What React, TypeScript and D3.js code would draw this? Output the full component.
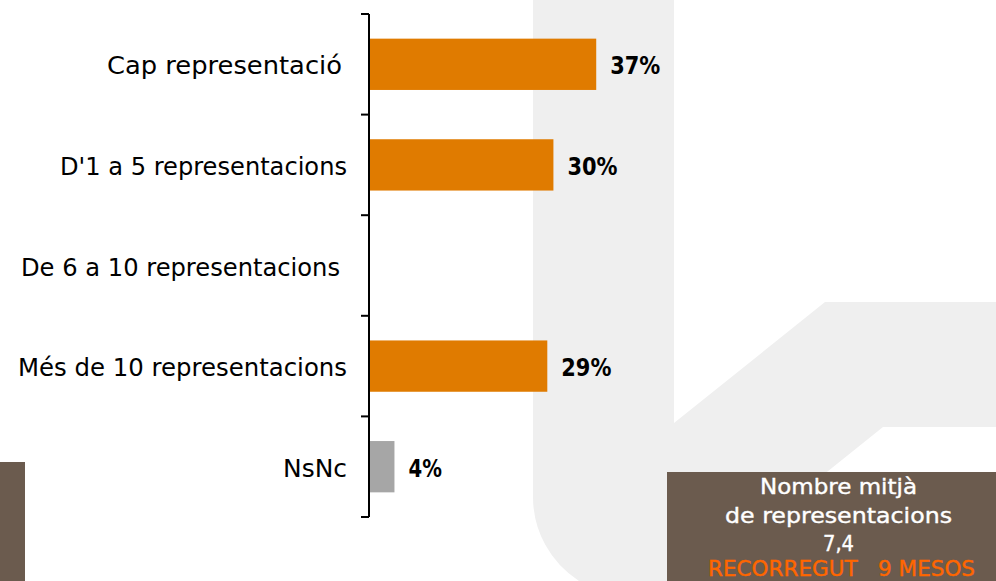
import React from "react";
import * as d3 from "d3";

const categories = [
  "Cap representació",
  "D'1 a 5 representacions",
  "De 6 a 10 representacions",
  "Més de 10 representacions",
  "NsNc",
];
const values: (number | null)[] = [37, 30, null, 29, 4];
const valueLabels = ["37%", "30%", "", "29%", "4%"];
const boxLines = ["Nombre mitjà", "de representacions", "7,4"];
const boxFooter = "RECORREGUT   9 MESOS";

const W = 996;
const H = 581;
const labelWidths = [235, 287, 319, 329, 64];
const labelRight = [342, 347, 340, 347, 347];
const boxWidths = [157, 227, 31];
const footerWidth = 267;

const ORANGE = "#e07b00";
const GREY_BAR = "#a6a6a6";
const BROWN = "#6b5b4e";
const LOGO = "#efefef";

export default function App() {
  const x = d3.scaleLinear().domain([0, 100]).range([370, 370 + 611.4]);
  const y = d3
    .scaleBand<string>()
    .domain(categories)
    .range([14, 517])
    .paddingInner(0.49)
    .paddingOuter(0.245);
  const step = y.step();
  const y0 = y.range()[0];
  const tickYs = d3.range(categories.length + 1).map((i) => y0 + i * step);
  const axisX = 369;

  const logoPath =
    "M533,0 H674 V423 L825,302 H996 V427 H883 L691,581 H579 A100,100 0 0 1 533,497 Z";

  return (
    <svg
      width={W}
      height={H}
      viewBox={`0 0 ${W} ${H}`}
      style={{ position: "absolute", left: 0, top: 0, display: "block" }}
    >
      <rect x={0} y={0} width={W} height={H} fill="#ffffff" />
      <path d={logoPath} fill={LOGO} />
      <rect x={0} y={462} width={25} height={H - 462} fill={BROWN} />
      <rect x={667} y={472} width={W - 667} height={H - 472} fill={BROWN} />

      {/* bars */}
      {categories.map((c, i) => {
        const v = values[i];
        if (v == null) return null;
        return (
          <rect
            key={c}
            x={x(0)}
            y={y(c)!}
            width={x(v) - x(0)}
            height={y.bandwidth()}
            fill={c === "NsNc" ? GREY_BAR : ORANGE}
          />
        );
      })}

      {/* axis */}
      <line x1={axisX} x2={axisX} y1={tickYs[0]} y2={tickYs[tickYs.length - 1]} stroke="#000" strokeWidth={2} />
      {tickYs.map((ty, i) => (
        <line key={i} x1={axisX - 8} x2={axisX} y1={ty} y2={ty} stroke="#000" strokeWidth={2} />
      ))}

      {/* category labels */}
      {categories.map((c, i) => (
        <text
          key={c}
          x={labelRight[i]}
          y={y(c)! + y.bandwidth() / 2 + 10}
          textAnchor="end"
          fontFamily="'DejaVu Sans', sans-serif"
          fontSize={25}
          textLength={labelWidths[i]}
          lengthAdjust="spacingAndGlyphs"
          fill="#000"
        >
          {c}
        </text>
      ))}

      {/* value labels */}
      {categories.map((c, i) => {
        const v = values[i];
        if (v == null) return null;
        return (
          <text
            key={c}
            x={x(v) + 14}
            y={y(c)! + y.bandwidth() / 2 + 10}
            fontFamily="'DejaVu Sans', sans-serif"
            fontWeight="bold"
            fontSize={25}
            textLength={valueLabels[i].length * 16.7}
            lengthAdjust="spacingAndGlyphs"
            fill="#000"
          >
            {valueLabels[i]}
          </text>
        );
      })}

      {/* info box */}
      {boxLines.map((t, i) => (
        <text
          key={t}
          x={838.5 - boxWidths[i] / 2}
          y={494 + i * 28.7}
          fontFamily="'DejaVu Sans', sans-serif"
          fontSize={22}
          textLength={boxWidths[i]}
          lengthAdjust="spacingAndGlyphs"
          fill="#ffffff"
          stroke="#ffffff"
          strokeWidth={0.4}
        >
          {t}
        </text>
      ))}
      <text
        x={841.5 - footerWidth / 2}
        y={576}
        fontFamily="'DejaVu Sans', sans-serif"
        fontSize={22}
        textLength={footerWidth}
        lengthAdjust="spacingAndGlyphs"
        fill="#ff6600"
        stroke="#ff6600"
        strokeWidth={0.4}
        style={{ whiteSpace: "pre" }}
      >
        {boxFooter}
      </text>
    </svg>
  );
}
